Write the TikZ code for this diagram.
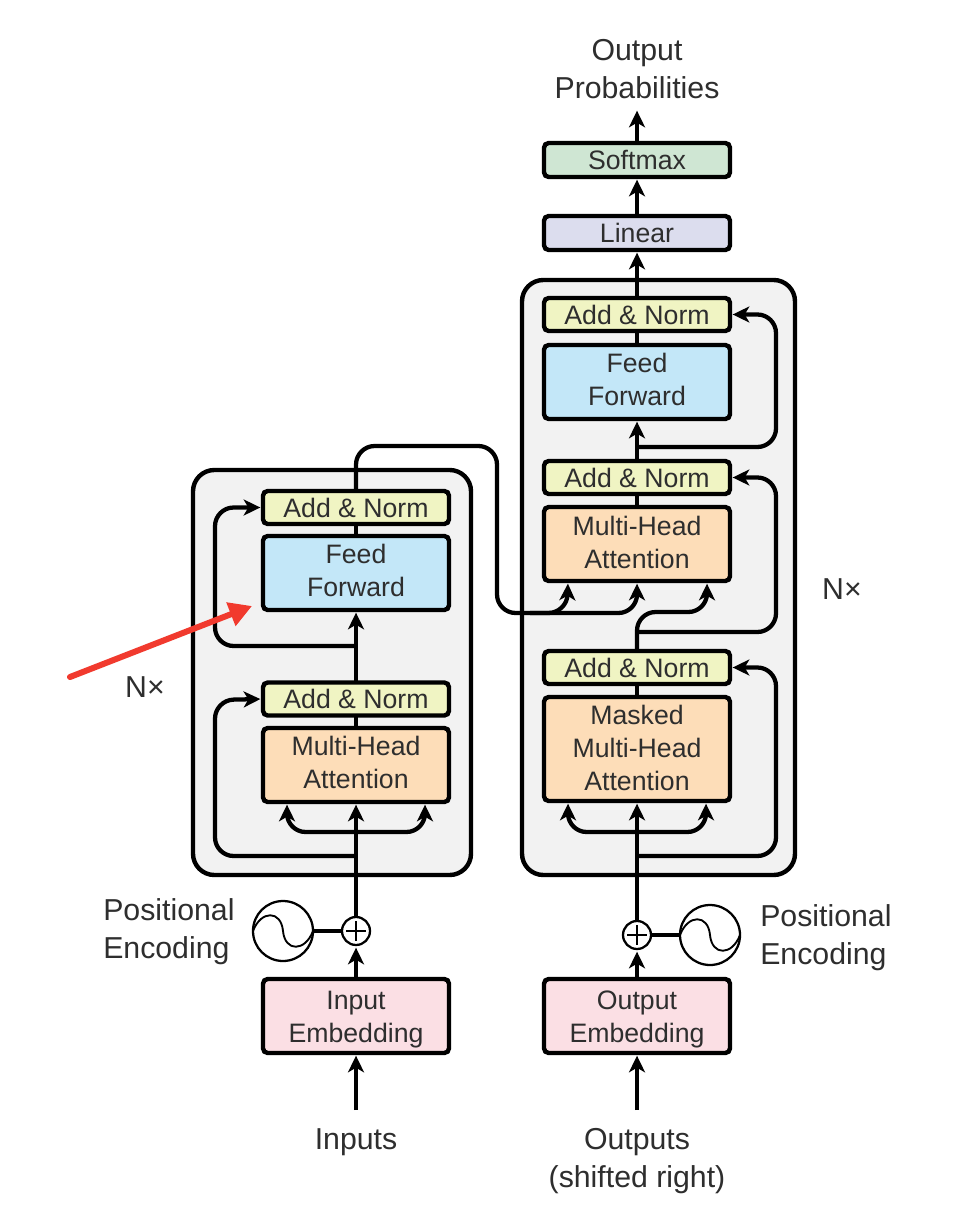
\documentclass[tikz,border=0pt]{standalone}
\usepackage{fontspec}
\setmainfont{Liberation Sans}
\usetikzlibrary{arrows.meta,calc}
\definecolor{inkc}{HTML}{000000}
\definecolor{txtc}{HTML}{2E2E2E}
\definecolor{softc}{HTML}{CFE6D3}
\definecolor{linc}{HTML}{DCDDEE}
\definecolor{addc}{HTML}{F0F4C3}
\definecolor{ffc}{HTML}{C3E7F8}
\definecolor{mhac}{HTML}{FDDDB8}
\definecolor{embc}{HTML}{FBDFE4}
\definecolor{bgc}{HTML}{F2F2F2}
\definecolor{redc}{HTML}{F13A2E}
\newcommand{\lowerfirst}{\rule{0pt}{18.7pt}}
\newcommand{\deepen}[1]{\rule[-#1]{0pt}{#1}}
\tikzset{
  lbl/.style={text=txtc,font=\fontsize{22.7}{28.5}\selectfont,inner sep=0pt,align=center},
  lblL/.style={lbl,align=left},
  blk/.style={text=txtc,font=\fontsize{20}{24.75}\selectfont,inner sep=0pt,align=center,draw=inkc,line width=3.3pt,rounded corners=3.5pt,minimum width=139.5pt,outer sep=0pt},
  addbox/.style={blk,fill=addc,minimum height=24.75pt},
  ffbox/.style={blk,fill=ffc,minimum height=55.5pt},
  mhabox/.style={blk,fill=mhac,minimum height=55.5pt},
  embbox/.style={blk,fill=embc,minimum height=55.5pt},
  stack/.style={draw=inkc,line width=3.3pt,fill=bgc,rounded corners=16pt,inner sep=0pt,outer sep=0pt},
  wire/.style={draw=inkc,line width=3.2pt},
  arr/.style={wire,-{Stealth[length=12.5pt,width=12pt,inset=3.5pt]},shorten >=2pt},
  bendy/.style={rounded corners=14pt},
  ringc/.style={circle,draw=inkc,line width=1.7pt,fill=white,inner sep=0pt,outer sep=0pt},
}
\begin{document}
\begin{tikzpicture}[x=0.75pt,y=-0.75pt]
\useasboundingbox (0,0) rectangle (960,1226);
\fill[white] (0,0) rectangle (960,1226);
% stacks
\node[stack,minimum width=208.5pt,minimum height=303.75pt] (encstack) at (332,672.5) {};
\node[stack,minimum width=204.75pt,minimum height=446.25pt] (decstack) at (658.5,577.5) {};
% encoder boxes
\node[addbox] (ean2) at (356,507.5) {Add \& Norm};
\node[ffbox] (eff) at (356,573) {Feed\\Forward\deepen{4.5pt}};
\node[addbox] (ean1) at (356,699) {Add \& Norm};
\node[mhabox] (emha) at (356,765) {Multi-Head\\Attention\deepen{4.5pt}};
\node[embbox] (eemb) at (356,1016) {\lowerfirst Input\\Embedding};
% decoder boxes
\node[blk,fill=softc,minimum height=25.5pt] (soft) at (637,160) {Softmax};
\node[blk,fill=linc,minimum height=25.5pt] (lin) at (637,233) {Linear};
\node[addbox] (dan3) at (637,314.5) {Add \& Norm};
\node[ffbox] (dff) at (637,382) {Feed\\Forward\deepen{4.5pt}};
\node[addbox] (dan2) at (637,477.5) {Add \& Norm};
\node[mhabox] (dmha) at (637,544) {Multi-Head\\Attention\deepen{3pt}};
\node[addbox] (dan1) at (637,667.5) {Add \& Norm};
\node[blk,fill=mhac,minimum height=78pt] (dmm) at (637,749) {Masked\\Multi-Head\\Attention\deepen{1.5pt}};
\node[embbox] (demb) at (637,1016) {\lowerfirst Output\\Embedding};
% pos encoding
\node[ringc,minimum size=21pt] (eplus) at (356,931) {};
\node[ringc,minimum size=21pt] (dplus) at (637,935) {};
\node[ringc,minimum size=45pt] (esin) at (283,931) {};
\node[ringc,minimum size=45pt] (dsin) at (710,935) {};
\foreach \n in {eplus,dplus}{
  \draw[inkc,line width=1.5pt] ($(\n.center)+(-10,0)$) -- ($(\n.center)+(10,0)$);
  \draw[inkc,line width=1.5pt] ($(\n.center)+(0,-10)$) -- ($(\n.center)+(0,10)$);
}
\foreach \n in {esin,dsin}{
  \draw[inkc,line width=1.4pt] (\n.west) .. controls ($(\n.center)+(-22,-21)$) and ($(\n.center)+(-2,-21)$) .. (\n.center)
     .. controls ($(\n.center)+(2,21)$) and ($(\n.center)+(22,21)$) .. (\n.east);
}
% free coordinates
\coordinate (ein) at (356,1110);
\coordinate (din) at (637,1110);
\coordinate (eb) at (356,856);
\coordinate (ec) at (356,832);
\coordinate (ef) at (356,646);
\coordinate (db) at (637,856);
\coordinate (dc) at (637,832);
\coordinate (dm) at (637,632);
\coordinate (dn) at (637,447);
\coordinate (etop) at (497,446);
\coordinate (out) at (637,108);
\coordinate (ebus) at (530,613);
% encoder wires
\draw[arr] (ein) -- (eemb.south);
\draw[arr] (eemb.north) -- (eplus.south);
\draw[wire] (esin.east) -- (eplus.west);
\draw[arr] (eplus.north) -- (emha.south);
\draw[arr,bendy] (ec) -| ($(emha.south)+(-69,0)$);
\draw[arr,bendy] (ec) -| ($(emha.south)+(69,0)$);
\draw[arr,bendy] (eb) -| (215,700) -- (ean1.west);
\draw[wire] (emha.north) -- (ean1.south);
\draw[arr] (ean1.north) -- (eff.south);
\draw[arr,bendy] (ef) -| (215,507.5) -- (ean2.west);
\draw[wire] (eff.north) -- (ean2.south);
% encoder output
\draw[arr,bendy] (ean2.north) |- (etop) -- (497,613) -- (567,613) -- ($(dmha.south)+(-69,0)$);
\draw[arr,bendy] (ebus) -- (637,613) -- (dmha.south);
% decoder wires
\draw[arr] (din) -- (demb.south);
\draw[arr] (demb.north) -- (dplus.south);
\draw[wire] (dsin.west) -- (dplus.east);
\draw[arr] (dplus.north) -- (dmm.south);
\draw[arr,bendy] (dc) -| ($(dmm.south)+(-69,0)$);
\draw[arr,bendy] (dc) -| ($(dmm.south)+(69,0)$);
\draw[arr,bendy] (db) -| (776,667.5) -- (dan1.east);
\draw[wire] (dmm.north) -- (dan1.south);
\draw[arr,bendy] (dan1.north) |- (707,612) -- ($(dmha.south)+(70,0)$);
\draw[arr,bendy] (dm) -| (776,477.5) -- (dan2.east);
\draw[wire] (dmha.north) -- (dan2.south);
\draw[arr] (dan2.north) -- (dff.south);
\draw[arr,bendy] (dn) -| (776,314.5) -- (dan3.east);
\draw[wire] (dff.north) -- (dan3.south);
\draw[arr] (dan3.north) -- (lin.south);
\draw[arr] (lin.north) -- (soft.south);
\draw[arr] (soft.north) -- (out);
% labels
\node[lbl] (outlbl) at (637,69) {Output\\Probabilities};
\node[lbl] (inp) at (356,1142) {Inputs};
\node[lbl] (outp) at (637,1161) {Outputs\\(shifted right)};
\node[lblL,anchor=west] (pel) at (103,932) {Positional\\Encoding};
\node[lblL,anchor=west] (per) at (760,938) {Positional\\Encoding};
\node[lbl] (nl) at (145,687) {N×};
\node[lbl] (nr) at (842,589) {N×};
% red arrow
\coordinate (rs) at (70,677);
\coordinate (re) at (252,606);
\draw[draw=redc,line width=4.5pt,line cap=round,-{Stealth[length=17pt,width=18pt,inset=0pt]}] (rs) -- (re);
\end{tikzpicture}
\end{document}
